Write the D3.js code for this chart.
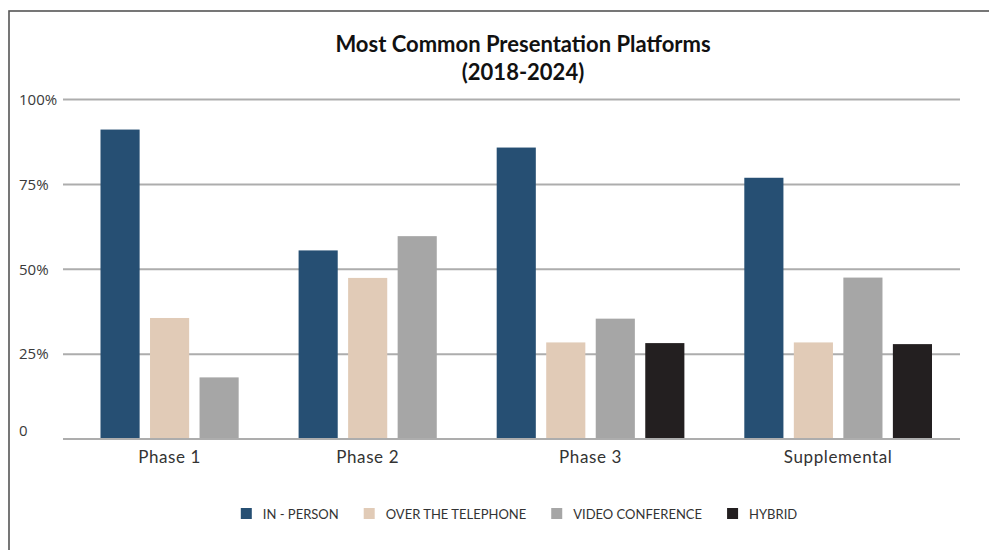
<!DOCTYPE html>
<html>
<head>
<meta charset="utf-8">
<script src="https://cdn.jsdelivr.net/npm/d3@7"></script>
<style>
  html, body { margin: 0; padding: 0; background: #fff; }
  svg { display: block; }
</style>
</head>
<body>
<svg id="chart" width="989" height="550"></svg>
<script>
var categories = ['Phase 1', 'Phase 2', 'Phase 3', 'Supplemental'];
var seriesNames = ['IN - PERSON', 'OVER THE TELEPHONE', 'VIDEO CONFERENCE', 'HYBRID'];
var inPerson = [91, 55.4, 85.7, 76.8];
var telephone = [35.5, 47.3, 28.3, 28.3];
var video = [18, 59.6, 35.3, 47.4];
var hybrid = [null, null, 28.1, 27.8];
var yTicks = [0, 25, 50, 75, 100];
var colors = ['#264f73', '#e1cbb7', '#a6a6a6', '#231f20'];

var values = [inPerson, telephone, video, hybrid];

var svg = d3.select('#chart');
var W = 989, H = 550;

// frame (only top and left edges are in view)
svg.append('rect')
  .attr('x', 9).attr('y', 11)
  .attr('width', W + 20).attr('height', H + 20)
  .attr('fill', 'none')
  .attr('stroke', '#555')
  .attr('stroke-width', 1.6);

// title
var title = svg.append('text')
  .attr('text-anchor', 'middle')
  .style('font-family', 'Lato, sans-serif')
  .style('font-weight', 700)
  .style('font-size', '22px')
  .style('fill', '#111');
title.append('tspan').attr('x', 523).attr('y', 52).text('Most Common Presentation Platforms');
title.append('tspan').attr('x', 523).attr('y', 80).text('(2018-2024)');

var plotLeft = 63, plotRight = 960;

var y = d3.scaleLinear().domain([0, 100]).range([438.5, 99]);

// one slot per bar present, and an empty slot between groups
var bars = [];
var slots = [];
categories.forEach(function(cat, ci) {
  values.forEach(function(vals, si) {
    if (vals[ci] == null) return;
    var key = cat + '|' + si;
    slots.push(key);
    bars.push({ key: key, cat: cat, series: si, value: vals[ci] });
  });
  if (ci < categories.length - 1) slots.push('gap' + ci);
});

var x = d3.scaleBand()
  .domain(slots)
  .range([100.5, 932])
  .paddingInner(0.21)
  .paddingOuter(0);

// gridlines + y labels
var yAxis = d3.axisLeft(y)
  .tickValues(yTicks)
  .tickSize(-(plotRight - plotLeft))
  .tickFormat(function(d) { return d === 0 ? '0' : d + '%'; });

var gy = svg.append('g')
  .attr('transform', 'translate(' + plotLeft + ',0)')
  .call(yAxis);
gy.select('.domain').remove();
gy.selectAll('.tick line')
  .attr('stroke', '#adadad')
  .attr('stroke-width', 2);
gy.selectAll('.tick text')
  .attr('x', 19 - plotLeft)
  .attr('dy', '0.35em')
  .attr('text-anchor', 'start')
  .style('font-family', '"Open Sans", sans-serif')
  .style('font-size', '15px')
  .style('fill', '#3a3a3a');
gy.selectAll('.tick')
  .filter(function(d) { return d === 0; })
  .select('text')
  .attr('dy', '-0.2em');

// bars
svg.append('g')
  .selectAll('rect')
  .data(bars)
  .join('rect')
  .attr('x', function(d) { return x(d.key); })
  .attr('y', function(d) { return y(d.value); })
  .attr('width', x.bandwidth())
  .attr('height', function(d) { return y(0) - y(d.value); })
  .attr('fill', function(d) { return colors[d.series]; });

// baseline over the bars
svg.append('line')
  .attr('x1', plotLeft).attr('x2', plotRight)
  .attr('y1', y(0) + 0.5).attr('y2', y(0) + 0.5)
  .attr('stroke', '#adadad')
  .attr('stroke-width', 2);

// category labels centred under each group
svg.append('g')
  .selectAll('text')
  .data(categories)
  .join('text')
  .attr('x', function(cat) {
    var own = bars.filter(function(b) { return b.cat === cat; });
    var first = x(own[0].key);
    var last = x(own[own.length - 1].key) + x.bandwidth();
    return (first + last) / 2;
  })
  .attr('y', 463)
  .attr('text-anchor', 'middle')
  .style('font-family', 'Lato, sans-serif')
  .style('font-size', '17px')
  .style('letter-spacing', '0.6px')
  .style('fill', '#333')
  .text(function(d) { return d; });

// legend
var legend = svg.append('g');
var items = legend.selectAll('g')
  .data(seriesNames)
  .join('g');
items.append('rect')
  .attr('width', 11).attr('height', 11)
  .attr('y', -6)
  .attr('fill', function(d, i) { return colors[i]; });
items.append('text')
  .attr('x', 22)
  .attr('dy', '0.35em')
  .style('font-family', 'Lato, sans-serif')
  .style('font-size', '13px')
  .style('fill', '#333')
  .text(function(d) { return d; });

var offset = 0;
items.each(function() {
  var g = d3.select(this);
  g.attr('transform', 'translate(' + offset + ',0)');
  offset += 22 + g.select('text').node().getComputedTextLength() + 25;
});
var total = offset - 25;
legend.attr('transform', 'translate(' + (519 - total / 2) + ',514)');
</script>
</body>
</html>
